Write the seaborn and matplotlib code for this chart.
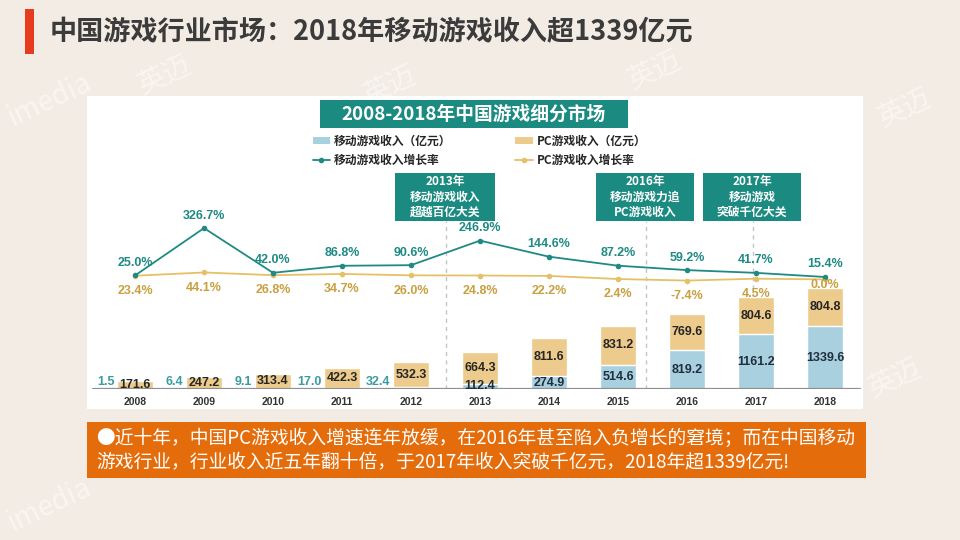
import numpy as np
import pandas as pd
import seaborn as sns
import matplotlib.pyplot as plt
from matplotlib.patches import Rectangle, Patch
from matplotlib.lines import Line2D

# data
years = ['2008', '2009', '2010', '2011', '2012', '2013', '2014', '2015', '2016', '2017', '2018']
mobile_rev = [1.5, 6.4, 9.1, 17.0, 32.4, 112.4, 274.9, 514.6, 819.2, 1161.2, 1339.6]
pc_rev = [171.6, 247.2, 313.4, 422.3, 532.3, 664.3, 811.6, 831.2, 769.6, 804.6, 804.8]
mobile_growth = [25.0, 326.7, 42.0, 86.8, 90.6, 246.9, 144.6, 87.2, 59.2, 41.7, 15.4]
pc_growth = [23.4, 44.1, 26.8, 34.7, 26.0, 24.8, 22.2, 2.4, -7.4, 4.5, 0.0]

milestone_text = ['2013年\n移动游戏收入\n超越百亿大关',
                  '2016年\n移动游戏力追\nPC游戏收入',
                  '2017年\n移动游戏\n突破千亿大关']

title = '中国游戏行业市场：2018年移动游戏收入超1339亿元'
chart_title = '2008-2018年中国游戏细分市场'
summary = ('●近十年，中国PC游戏收入增速连年放缓，在2016年甚至陷入负增长的窘境；而在中国移动\n'
           '游戏行业，行业收入近五年翻十倍，于2017年收入突破千亿元，2018年超1339亿元!')

BG = '#f3ece5'
TEAL = '#1b8a80'
MOB = '#a9d0de'
PC = '#edcb8c'
MOB_LINE = '#1f8a84'
PC_LINE = '#e6c067'
PC_TXT = '#c9a040'
ORANGE = '#e46c0a'
CJK = ['Noto Sans CJK SC', 'DejaVu Sans']

sns.set_theme(style='white')
plt.rcParams['font.family'] = ['Liberation Sans', 'Noto Sans CJK SC', 'DejaVu Sans']

fig = plt.figure(figsize=(9.6, 5.4), dpi=100, facecolor=BG)


def fx(x):
    return x / 960


def fy(y):
    return 1 - y / 540


def box(x0, y0, x1, y1, color, z=0):
    fig.patches.append(Rectangle((fx(x0), fy(y1)), (x1 - x0) / 960, (y1 - y0) / 540,
                                 transform=fig.transFigure, facecolor=color,
                                 edgecolor='none', zorder=z))


# faint watermarks in the slide background
for (wx, wy, wt) in [(165, 75, '英迈'), (390, 85, '英迈'), (655, 70, '英迈'),
                     (905, 108, '英迈'), (895, 378, '英迈'), (50, 100, 'imedia'),
                     (50, 505, 'imedia')]:
    fig.text(fx(wx), fy(wy), wt, fontsize=20, color='#f9f5f1', rotation=25,
             ha='center', va='center', zorder=-2, family=CJK)

# slide title
box(25, 9, 34, 54, '#e63b1e')
fig.text(fx(50), fy(32), title, fontsize=19.5, fontweight='bold', color='#3b3b3b',
         va='center', ha='left', family=CJK)

# white chart panel
box(87, 96, 863, 409, 'white', z=-1)

# chart header
box(320, 100, 628, 128, TEAL, z=2)
fig.text(fx(474), fy(114), chart_title, fontsize=13.5, fontweight='bold', color='white',
         ha='center', va='center', zorder=3, family=CJK)

# main axes
ax = fig.add_axes([fx(87), fy(389), (863 - 87) / 960, (389 - 96) / 540])
ax.set_facecolor('none')

df = pd.DataFrame({'year': years, 'mobile': mobile_rev, 'pc': pc_rev})
df['total'] = df['mobile'] + df['pc']

sns.barplot(data=df, x='year', y='total', color=PC, saturation=1, width=0.52,
            edgecolor='white', linewidth=1, ax=ax, zorder=2)
sns.barplot(data=df, x='year', y='mobile', color=MOB, saturation=1, width=0.52,
            edgecolor='white', linewidth=1, ax=ax, zorder=2)

ax.set_xlim(-0.696, 10.551)
ax.set_ylim(0, 6234)
for s in ax.spines.values():
    s.set_visible(False)
ax.set_yticks([])
ax.set_xlabel('')
ax.set_ylabel('')
ax.tick_params(axis='x', length=0, pad=6)
for lab in ax.get_xticklabels():
    lab.set_fontsize(7.5)
    lab.set_fontweight('bold')
    lab.set_color('#333333')
ax.axhline(0, xmin=0.008, xmax=0.996, color='#8f8f8f', lw=1.6, zorder=3)

for i, (m, p) in enumerate(zip(mobile_rev, pc_rev)):
    ax.text(i, m + p / 2, f'{p:.1f}', ha='center', va='center', fontsize=9,
            fontweight='bold', color='#262626', zorder=4)
    if m > 100:
        ax.text(i, m / 2, f'{m:.1f}', ha='center', va='center', fontsize=9,
                fontweight='bold', color='#1f2f3f', zorder=4)
    else:
        ax.annotate(f'{m:.1f}', (i - 0.26, 0), xytext=(-2, 1), textcoords='offset points',
                    ha='right', va='bottom', fontsize=9, fontweight='bold',
                    color='#3a9ba2', zorder=4)

# milestone boxes with dashed guides
for txt, xpos, (x0, x1) in zip(milestone_text, [4.5, 7.4, 8.96],
                               [(395, 495), (596, 694), (703, 801)]):
    box(x0, 173, x1, 221, TEAL, z=2)
    fig.text(fx((x0 + x1) / 2), fy(197), txt, fontsize=8.5, fontweight='bold', color='white',
             ha='center', va='center', linespacing=1.25, zorder=3, family=CJK)
    ax.axvline(xpos, ymin=0, ymax=(389 - 221) / 293, color='#c4c4c4', lw=1,
               ls=(0, (3, 3)), zorder=1)

# growth lines on a second scale
ax2 = ax.twinx()
ax2.set_ylim(-698, 1168)
ax2.axis('off')
pos = np.arange(len(years))
sns.lineplot(x=pos, y=pc_growth, color=PC_LINE, lw=1.3, marker='o', markersize=4,
             markeredgewidth=0, legend=False, ax=ax2)
sns.lineplot(x=pos, y=mobile_growth, color=MOB_LINE, lw=1.3, marker='o', markersize=4,
             markeredgewidth=0, legend=False, ax=ax2)

for i, (g1, g2) in enumerate(zip(mobile_growth, pc_growth)):
    ax2.annotate(f'{g1:.1f}%', (i, g1), xytext=(0, 9), textcoords='offset points',
                 ha='center', va='center', fontsize=9, fontweight='bold', color=MOB_LINE)
    off = -4 if i == len(years) - 1 else -11
    ax2.annotate(f'{g2:.1f}%', (i, g2), xytext=(0, off), textcoords='offset points',
                 ha='center', va='center', fontsize=9, fontweight='bold', color=PC_TXT)

# legend
handles = [Patch(facecolor=MOB, edgecolor='none'),
           Line2D([], [], color=MOB_LINE, lw=1.3, marker='o', markersize=3),
           Patch(facecolor=PC, edgecolor='none'),
           Line2D([], [], color=PC_LINE, lw=1.3, marker='o', markersize=3)]
labels = ['移动游戏收入（亿元）', '移动游戏收入增长率', 'PC游戏收入（亿元）', 'PC游戏收入增长率']
fig.legend(handles, labels, ncol=2, loc='upper left', bbox_to_anchor=(fx(302), fy(124)),
           frameon=False, handlelength=1.5, handleheight=0.6, handletextpad=0.3,
           labelspacing=0.55, columnspacing=5.4,
           prop={'size': 8.5, 'weight': 'bold', 'family': CJK})

# summary box
box(87, 422, 866, 478, ORANGE)
fig.text(fx(96), fy(450), summary, fontsize=13.5, color='white', ha='left', va='center',
         linespacing=1.2, family=CJK)

fig.savefig('out.png', dpi=100, facecolor=BG)
